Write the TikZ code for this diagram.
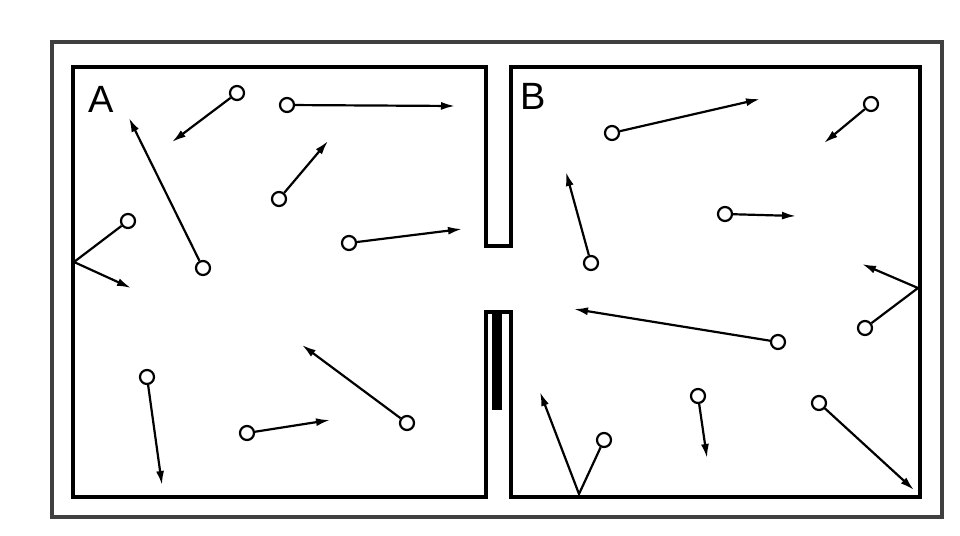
\documentclass[tikz,border=0pt]{standalone}
\usepackage{fontspec}
\setmainfont{Liberation Sans}
\usetikzlibrary{arrows.meta}
\begin{document}
\begin{tikzpicture}[x=1pt,y=-1pt,
  wall/.style={line width=3.6pt,line join=miter},
  mol/.style={circle,draw,line width=2.2pt,fill=white,minimum size=14pt,inner sep=0pt},
  vel/.style={line width=2.2pt,-{Latex[length=14pt,width=8pt]}},
  lbl/.style={font=\fontsize{38}{38}\selectfont,inner sep=0pt}]
\useasboundingbox (0,0) rectangle (960,535);
\draw[line width=3.2pt,draw=black!75] (52,42) rectangle (942,517);
\draw[wall] (73,67) -- (486,67) -- (486,246) -- (511,246) -- (511,67) -- (920,67) -- (920,497)
  -- (511,497) -- (511,312) -- (486,312) -- (486,497) -- (73,497) -- cycle;
\fill (492,314) rectangle (502,410);
\node[lbl] (A) at (101,99) {A};
\node[lbl] (B) at (533,96) {B};
% free molecules: name/ball/tip
\foreach \n/\bx/\by/\tx/\ty in {
 m1/237/93/172/142, m2/287/105/455/106, m3/279/199/328/141, m4/203/268/129/118,
 m6/349/243/462/229, m7/147/377/162/485, m8/247/433/330/420, m9/407/423/302/345,
 m10/612/133/760/99, m11/871/104/824/143, m12/725/214/796/216, m13/591/263/566/172,
 m15/778/342/574/309, m16/698/396/707/458, m18/819/403/914/490}{
  \node[mol] (\n) at (\bx,\by) {};
  \coordinate (\n t) at (\tx,\ty);
  \draw[vel] (\n) -- (\n t);
}
% bouncing molecules
\foreach \n/\bx/\by/\wx/\wy/\tx/\ty in {
 m5/128/221/74/262/131/288, m14/865/328/918/288/862/264, m17/604/440/579/494/540/392}{
  \node[mol] (\n) at (\bx,\by) {};
  \coordinate (\n w) at (\wx,\wy);
  \coordinate (\n t) at (\tx,\ty);
  \draw[vel] (\n) -- (\n w) -- (\n t);
}
\end{tikzpicture}
\end{document}
